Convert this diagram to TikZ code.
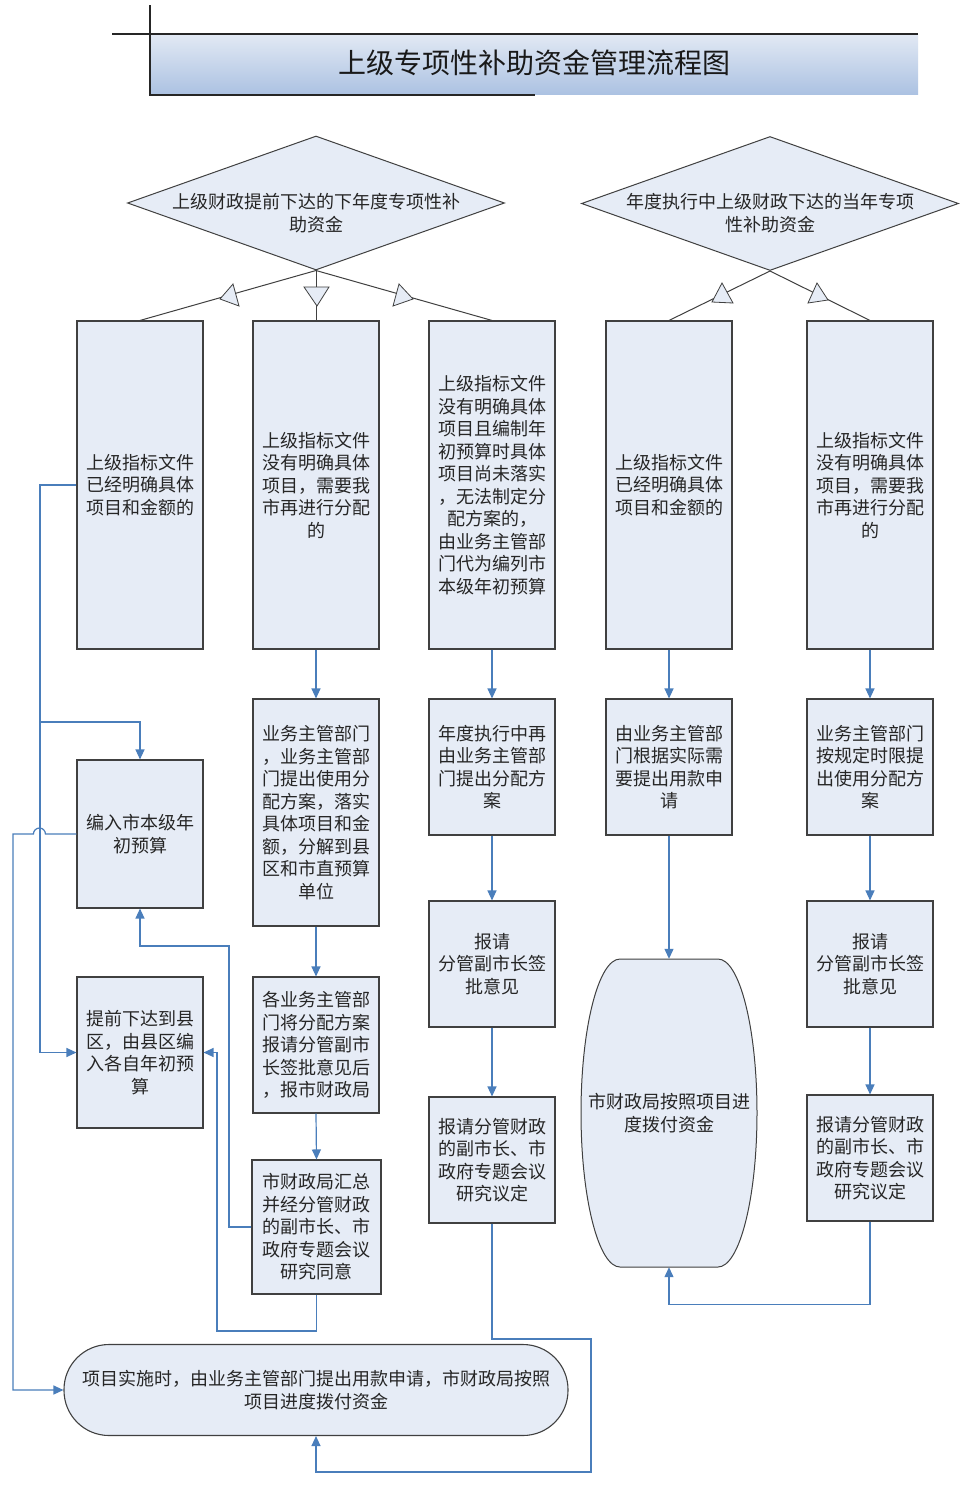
\documentclass[tikz,border=0pt]{standalone}
\usepackage{fontspec}
\setmainfont{Noto Sans CJK SC}
\usetikzlibrary{shapes.geometric,arrows.meta}
\definecolor{boxfill}{RGB}{230,236,246}
\definecolor{boxline}{RGB}{64,64,64}
\definecolor{connc}{RGB}{74,126,187}
\definecolor{txt}{RGB}{38,38,38}
\definecolor{ttop}{RGB}{226,233,244}
\definecolor{tbot}{RGB}{172,194,226}
\begin{document}
\begin{tikzpicture}[x=1pt,y=-1pt,
  box/.style={draw=boxline,fill=boxfill,line width=1.1pt,inner sep=0pt,align=center,text=txt,font=\fontsize{18}{22.5}\selectfont,minimum width=126pt},
  lbl/.style={inner sep=0pt,align=center,text=txt,font=\fontsize{18}{22.5}\selectfont},
  diam/.style={diamond,draw=boxline,fill=boxfill,line width=1pt,inner sep=0pt,minimum width=377pt,minimum height=134pt},
  tri/.style={draw=boxline,fill=boxfill,line width=0.8pt,line join=miter},
  stem/.style={draw=boxline,line width=1pt},
  conn/.style={draw=connc,line width=1.2pt},
  arr/.style={conn,-{Triangle[length=10pt,width=9pt]}},
]
\useasboundingbox[fill=white] (0,0) rectangle (962,1486);

% title
\shade[top color=ttop,bottom color=tbot] (150,34) rectangle (918,94);
\draw[line width=1.2pt,black!85] (112,34) -- (918,34);
\draw[line width=1.2pt,black!85] (150,5) -- (150,95) -- (535,95);
\node[inner sep=0pt,text=black!90,font=\fontsize{28}{32}\selectfont] (T) at (534,63) {上级专项性补助资金管理流程图};

% decision diamonds
\node[diam] (P1) at (316,203) {};
\node[lbl] (P1t) at (316,213) {上级财政提前下达的下年度专项性补\\助资金};
\node[diam] (P2) at (770,203.5) {};
\node[lbl] (P2t) at (770,213) {年度执行中上级财政下达的当年专项\\性补助资金};

% row 1
\node[box,minimum height=328pt] (A1) at (140,485) {上级指标文件\\已经明确具体\\项目和金额的};
\node[box,minimum height=328pt] (A2) at (316,485) {上级指标文件\\没有明确具体\\项目，需要我\\市再进行分配\\的};
\node[box,minimum height=328pt] (A3) at (492,485) {上级指标文件\\没有明确具体\\项目且编制年\\初预算时具体\\项目尚未落实\\，无法制定分\\配方案的，\\由业务主管部\\门代为编列市\\本级年初预算};
\node[box,minimum height=328pt] (A4) at (669,485) {上级指标文件\\已经明确具体\\项目和金额的};
\node[box,minimum height=328pt] (A5) at (870,485) {上级指标文件\\没有明确具体\\项目，需要我\\市再进行分配\\的};

% row 2
\node[box,minimum height=148pt] (B1) at (140,834) {编入市本级年\\初预算};
\node[box,minimum height=227pt] (B2) at (316,812.5) {业务主管部门\\，业务主管部\\门提出使用分\\配方案，落实\\具体项目和金\\额，分解到县\\区和市直预算\\单位};
\node[box,minimum height=136pt] (B3) at (492,767) {年度执行中再\\由业务主管部\\门提出分配方\\案};
\node[box,minimum height=136pt] (B4) at (669,767) {由业务主管部\\门根据实际需\\要提出用款申\\请};
\node[box,minimum height=136pt] (B5) at (870,767) {业务主管部门\\按规定时限提\\出使用分配方\\案};

% row 3
\node[box,minimum height=151pt] (C1) at (140,1052.5) {提前下达到县\\区，由县区编\\入各自年初预\\算};
\node[box,minimum height=136pt] (C2) at (316,1045) {各业务主管部\\门将分配方案\\报请分管副市\\长签批意见后\\，报市财政局};
\node[box,minimum height=126pt] (C3) at (492,964) {报请\\分管副市长签\\批意见};
\path[draw=boxline,fill=boxfill,line width=1pt] (620,959) -- (718,959)
  .. controls (739.5,959) and (757,1028) .. (757,1113)
  .. controls (757,1198) and (739.5,1267) .. (718,1267) -- (620,1267)
  .. controls (598.5,1267) and (581,1198) .. (581,1113)
  .. controls (581,1028) and (598.5,959) .. (620,959) -- cycle;
\node[lbl,minimum width=176pt,minimum height=308pt] (C4) at (669,1113) {市财政局按照项目进\\度拨付资金};
\node[box,minimum height=126pt] (C5) at (870,964) {报请\\分管副市长签\\批意见};

% row 4
\node[box,minimum width=129pt,minimum height=134pt] (D2) at (316.5,1227) {市财政局汇总\\并经分管财政\\的副市长、市\\政府专题会议\\研究同意};
\node[box,minimum height=126pt] (D3) at (492,1160) {报请分管财政\\的副市长、市\\政府专题会议\\研究议定};
\node[box,minimum height=126pt] (D5) at (870,1158) {报请分管财政\\的副市长、市\\政府专题会议\\研究议定};

% terminator
\node[box,rounded corners=45pt,minimum width=504pt,minimum height=91pt] (E) at (316,1390) {项目实施时，由业务主管部门提出用款申请，市财政局按照\\项目进度拨付资金};

% stems from diamonds
\draw[stem] (P1.south) -- (A1.north);
\draw[stem] (P1.south) -- (A2.north);
\draw[stem] (P1.south) -- (A3.north);
\draw[stem] (P2.south) -- (A4.north);
\draw[stem] (P2.south) -- (A5.north);
\draw[tri] (220,299) -- (233,284) -- (239,306) -- cycle;
\draw[tri] (304,287) -- (329,287) -- (317,306) -- cycle;
\draw[tri] (413,299) -- (399,284) -- (393,306) -- cycle;
\draw[tri] (722,283) -- (712,302) -- (733,303) -- cycle;
\draw[tri] (817,283) -- (808,303) -- (828,300) -- cycle;

% straight connectors
\draw[arr] (A2.south) -- (B2.north);
\draw[arr] (A3.south) -- (B3.north);
\draw[arr] (A4.south) -- (B4.north);
\draw[arr] (A5.south) -- (B5.north);
\draw[arr] (B2.south) -- (C2.north);
\draw[arr] (C2.south) -- (D2.north);
\draw[arr] (B3.south) -- (C3.north);
\draw[arr] (C3.south) -- (D3.north);
\draw[arr] (B4.south) -- (C4.north);
\draw[arr] (B5.south) -- (C5.north);
\draw[arr] (C5.south) -- (D5.north);

% routed connectors
\coordinate (L1) at (40,722);
\draw[arr] (A1.west) -| (L1) |- (C1.west);
\draw[arr] (L1) -| (B1.north);
\draw[arr] (B1.west) -- ++(-31,0) arc[start angle=0,end angle=180,radius=6pt] -- (13,834) |- (E.west);
\draw[arr] (D2.west) -| (229,946) -| (B1.south);
\draw[arr] (D2.south) |- (217,1331) |- (C1.east);
\draw[arr] (D5.south) -- ++(0,83) -| (C4.south);
\draw[arr] (D3.south) |- (591,1339) -- (591,1472) -| (E.south);
\end{tikzpicture}
\end{document}
